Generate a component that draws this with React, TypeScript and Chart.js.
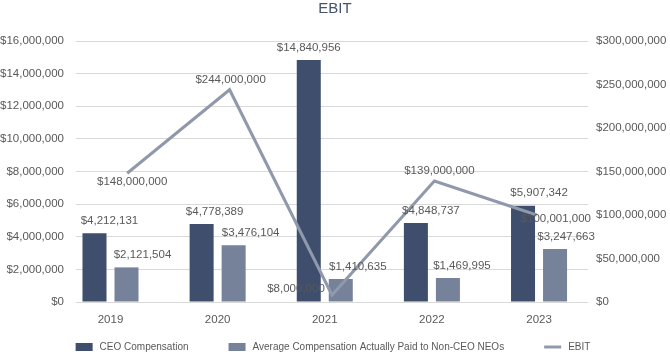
import { useEffect, useRef } from "react";
import { Chart, registerables } from "chart.js";

Chart.register(...registerables);

// ---- data ----
const years = ["2019", "2020", "2021", "2022", "2023"];
const ceoComp = [4212131, 4778389, 14840956, 4848737, 5907342];
const avgComp = [2121504, 3476104, 1410635, 1469995, 3247663];
const ebit = [148000000, 244000000, 8000000, 139000000, 100001000];
const leftMax = 16000000;
const leftStep = 2000000;
const rightMax = 300000000;
const rightStep = 50000000;

// ---- style ----
const FONT = "'Liberation Sans', Arial, Helvetica, sans-serif";
const TEXT = "#595959";
const CEO_COLOR = "#3e4e6c";
const AVG_COLOR = "#76819a";
const LINE_COLOR = "#8f99ab";
const GRID = "#d9d9d9";
const BAR_SHIFT = 0.1494; // half of the bar pair pitch, in category units
const barLabelDx = [
  [15, 13, 0, 15, 16],
  [16, 17, 17, 14, 11],
];
const lineLabelOffset = [
  [5, 9],
  [1, -10],
  [-36, -6],
  [5, -10],
  [19, 4],
];

const money = (v: number) => "$" + Math.round(v).toLocaleString("en-US");

const labelsPlugin = {
  id: "valueLabels",
  afterDatasetsDraw(chart: any) {
    const ctx = chart.ctx;
    ctx.save();
    ctx.font = `11.5px ${FONT}`;
    ctx.fillStyle = TEXT;
    ctx.textAlign = "center";
    ctx.textBaseline = "middle";
    chart.data.datasets.forEach((ds: any, di: number) => {
      const meta = chart.getDatasetMeta(di);
      meta.data.forEach((el: any, i: number) => {
        const v = ds.data[i].y;
        if (ds.type === "line") {
          const [dx, dy] = lineLabelOffset[i];
          ctx.fillText(money(v), el.x + dx, el.y + dy);
        } else {
          ctx.fillText(money(v), el.x + barLabelDx[di][i], el.y - 12.5);
        }
      });
    });
    ctx.restore();
  },
};

const legendPlugin = {
  id: "bottomLegend",
  afterDraw(chart: any) {
    const ctx = chart.ctx;
    ctx.save();
    ctx.font = `10px ${FONT}`;
    ctx.textBaseline = "middle";
    ctx.textAlign = "left";
    const sym = 17;
    const gapText = 7;
    const gap = 40;
    const items = chart.data.datasets;
    const widths = items.map((d: any) => sym + gapText + ctx.measureText(d.label).width);
    const total = widths.reduce((a: number, b: number) => a + b, 0) + gap * (items.length - 1);
    let x = 333 - total / 2;
    const y = 347;
    items.forEach((d: any, i: number) => {
      if (d.type === "line") {
        ctx.strokeStyle = d.borderColor;
        ctx.lineWidth = 3;
        ctx.beginPath();
        ctx.moveTo(x, y);
        ctx.lineTo(x + sym, y);
        ctx.stroke();
      } else {
        ctx.fillStyle = d.backgroundColor;
        ctx.fillRect(x, y - 4, sym, 8);
      }
      ctx.fillStyle = TEXT;
      ctx.fillText(d.label, x + sym + gapText, y);
      x += widths[i] + gap;
    });
    ctx.restore();
  },
};

export default function App() {
  const ref = useRef<HTMLCanvasElement | null>(null);

  useEffect(() => {
    document.body.style.margin = "0";
    if (!ref.current) return;
    Chart.defaults.font.family = FONT;
    Chart.defaults.color = TEXT;
    const chart = new Chart(ref.current, {
      type: "bar",
      data: {
        datasets: [
          {
            type: "bar",
            label: "CEO Compensation",
            data: ceoComp.map((v, i) => ({ x: i - BAR_SHIFT, y: v })),
            backgroundColor: CEO_COLOR,
            xAxisID: "x",
            yAxisID: "y",
            grouped: false,
            categoryPercentage: 1,
            barPercentage: 0.75,
            order: 1,
          },
          {
            type: "bar",
            label: "Average Compensation Actually Paid to Non-CEO NEOs",
            data: avgComp.map((v, i) => ({ x: i + BAR_SHIFT, y: v })),
            backgroundColor: AVG_COLOR,
            xAxisID: "x",
            yAxisID: "y",
            grouped: false,
            categoryPercentage: 1,
            barPercentage: 0.75,
            order: 2,
          },
          {
            type: "line",
            label: "EBIT",
            data: ebit.map((v, i) => ({ x: i, y: v })),
            borderColor: LINE_COLOR,
            backgroundColor: LINE_COLOR,
            borderWidth: 3,
            pointRadius: 0,
            tension: 0,
            xAxisID: "xLine",
            yAxisID: "y1",
            order: 0,
          },
        ] as any,
      },
      options: {
        animation: false,
        responsive: false,
        events: [],
        layout: { padding: { left: 0, right: 0, top: 0, bottom: 26 } },
        plugins: {
          legend: { display: false },
          tooltip: { enabled: false },
          title: {
            display: true,
            text: "EBIT",
            color: "#44546a",
            font: { size: 15, weight: "normal", family: FONT, lineHeight: 1 },
            padding: { top: 1, bottom: 25 },
          },
        },
        scales: {
          x: {
            type: "linear",
            position: "bottom",
            offset: false,
            min: -0.322,
            max: 4.457,
            grid: { display: false, drawTicks: false, offset: false },
            border: { display: false },
            afterBuildTicks: (scale: any) => {
              scale.ticks = years.map((_, i) => ({ value: i }));
            },
            afterFit: (scale: any) => {
              scale.height = 30;
            },
            ticks: {
              padding: 11,
              color: TEXT,
              font: { size: 11.5, family: FONT },
              maxRotation: 0,
              autoSkip: false,
              callback: (v: any) => years[Math.round(Number(v))] ?? "",
            },
          },
          xLine: {
            type: "linear",
            display: false,
            offset: false,
            min: -0.5,
            max: 4.5,
            grid: { offset: false },
          },
          y: {
            position: "left",
            min: 0,
            max: leftMax,
            grid: { color: GRID, lineWidth: 1, drawTicks: false },
            border: { display: false },
            afterFit: (scale: any) => {
              scale.width = 76;
            },
            ticks: {
              stepSize: leftStep,
              padding: 12,
              color: TEXT,
              font: { size: 11.5, family: FONT },
              callback: (v: any) => money(Number(v)),
            },
          },
          y1: {
            position: "right",
            min: 0,
            max: rightMax,
            grid: { display: false, drawTicks: false },
            border: { display: false },
            afterFit: (scale: any) => {
              scale.width = 82;
            },
            ticks: {
              stepSize: rightStep,
              padding: 8,
              color: TEXT,
              font: { size: 11.5, family: FONT },
              callback: (v: any) => money(Number(v)),
            },
          },
        },
      } as any,
      plugins: [labelsPlugin, legendPlugin],
    });
    return () => chart.destroy();
  }, []);

  return (
    <div style={{ width: 670, height: 358, background: "#ffffff" }}>
      <canvas ref={ref} width={670} height={358} style={{ display: "block" }} />
    </div>
  );
}
